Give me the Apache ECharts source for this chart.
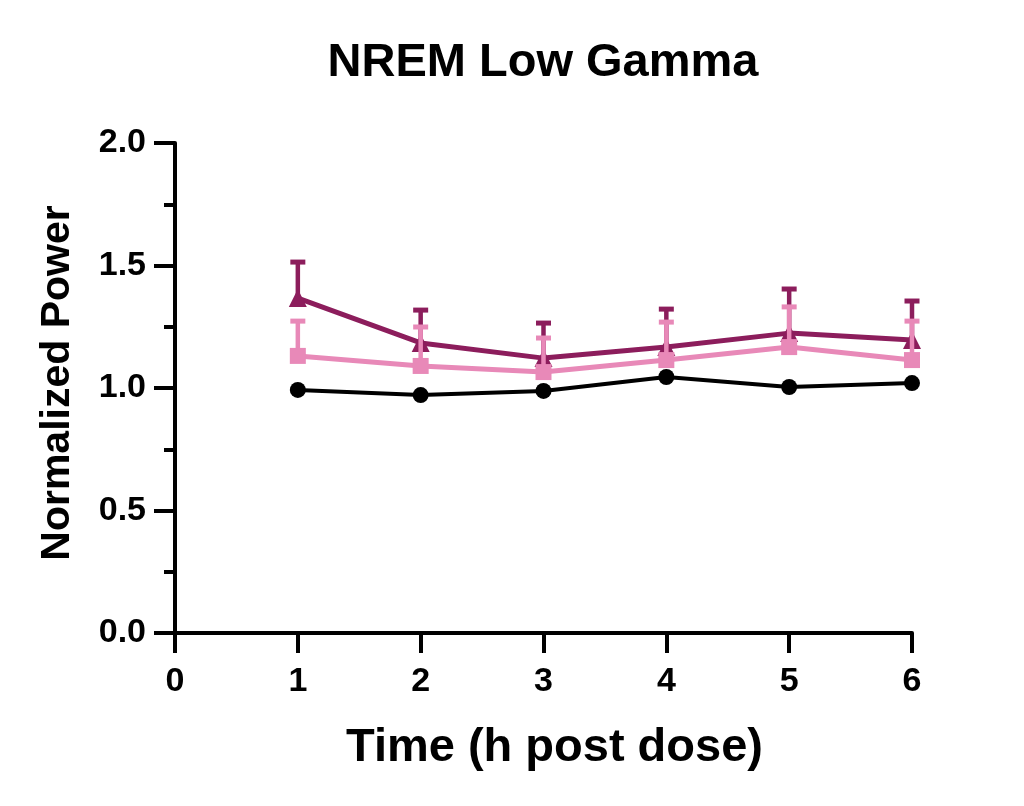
<!DOCTYPE html>
<html><head><meta charset="utf-8">
<script src="https://cdn.jsdelivr.net/npm/echarts@6/dist/echarts.min.js"></script>
<style>html,body{margin:0;padding:0;background:#fff}#c{width:1024px;height:806px}</style>
</head><body><div id="c"></div>
<script>
var hours = [1, 2, 3, 4, 5, 6];
var vehicle = [0.992, 0.971, 0.988, 1.045, 1.004, 1.020];
var lowDose = [1.131, 1.090, 1.065, 1.114, 1.167, 1.114];
var lowDoseUpper = [1.273, 1.249, 1.204, 1.269, 1.331, 1.273];
var highDose = [1.367, 1.184, 1.122, 1.167, 1.224, 1.196];
var highDoseUpper = [1.514, 1.318, 1.265, 1.322, 1.404, 1.355];

var PURPLE = '#8C1D5C', PINK = '#E889B8', BLACK = '#000000';
function pairs(ys){ return hours.map(function(h,i){return [h, ys[i]];}); }
function errData(ys, ups){ return hours.map(function(h,i){return [h, ys[i], ups[i]];}); }
function errSeries(ys, ups, color, z){
  return {
    type: 'custom', z: z, silent: true,
    data: errData(ys, ups),
    encode: {x: 0, y: [1, 2]},
    renderItem: function(params, api){
      var p0 = api.coord([api.value(0), api.value(1)]);
      var p1 = api.coord([api.value(0), api.value(2)]);
      var hw = 7.5;
      return {type: 'group', children: [
        {type: 'line', shape: {x1: p0[0], y1: p0[1], x2: p1[0], y2: p1[1]}, style: {stroke: color, lineWidth: 4.5}},
        {type: 'line', shape: {x1: p1[0]-hw, y1: p1[1], x2: p1[0]+hw, y2: p1[1]}, style: {stroke: color, lineWidth: 5}}
      ]};
    }
  };
}
var font = 'Liberation Sans, Arial, sans-serif';
var chart = echarts.init(document.getElementById('c'));
chart.setOption({
  animation: false,
  title: {text: 'NREM Low Gamma', left: 538, top: 35, textAlign: 'center',
    textStyle: {fontFamily: font, fontWeight: 'bold', fontSize: 47, color: '#000'}},
  grid: {left: 175, right: 112, top: 143, bottom: 173, containLabel: false},
  xAxis: {
    type: 'value', min: 0, max: 6, interval: 1,
    name: 'Time (h post dose)', nameLocation: 'middle', nameGap: 92,
    nameTextStyle: {fontFamily: font, fontWeight: 'bold', fontSize: 47, color: '#000', padding: [0, 0, 0, 22]},
    axisLine: {onZero: false, lineStyle: {color: '#000', width: 4}},
    axisTick: {show: true, length: 20, lineStyle: {color: '#000', width: 4}},
    axisLabel: {fontFamily: font, fontWeight: 'bold', fontSize: 34, color: '#000', margin: 32},
    splitLine: {show: false}
  },
  yAxis: {
    type: 'value', min: 0, max: 2, interval: 0.5,
    name: 'Normalized Power', nameLocation: 'middle', nameGap: 97, nameRotate: 90,
    nameTextStyle: {fontFamily: font, fontWeight: 'bold', fontSize: 41, color: '#000', padding: [0, 0, 0, 10]},
    axisLine: {show: true, lineStyle: {color: '#000', width: 4}},
    axisTick: {show: true, length: 21, lineStyle: {color: '#000', width: 4}},
    minorTick: {show: true, splitNumber: 2, length: 11, lineStyle: {color: '#000', width: 4}},
    axisLabel: {fontFamily: font, fontWeight: 'bold', fontSize: 34, color: '#000', margin: 29,
      formatter: function(v){return v.toFixed(1);}},
    splitLine: {show: false}, minorSplitLine: {show: false}
  },
  series: [
    errSeries(highDose, highDoseUpper, PURPLE, 2),
    {type: 'line', z: 3, data: pairs(highDose), symbol: 'triangle', symbolSize: 18,
      lineStyle: {color: PURPLE, width: 5}, itemStyle: {color: PURPLE}},
    errSeries(lowDose, lowDoseUpper, PINK, 4),
    {type: 'line', z: 5, data: pairs(lowDose), symbol: 'rect', symbolSize: 16,
      lineStyle: {color: PINK, width: 5}, itemStyle: {color: PINK}},
    {type: 'line', z: 6, data: pairs(vehicle), symbol: 'circle', symbolSize: 16,
      lineStyle: {color: BLACK, width: 4}, itemStyle: {color: BLACK}}
  ]
});
</script></body></html>
